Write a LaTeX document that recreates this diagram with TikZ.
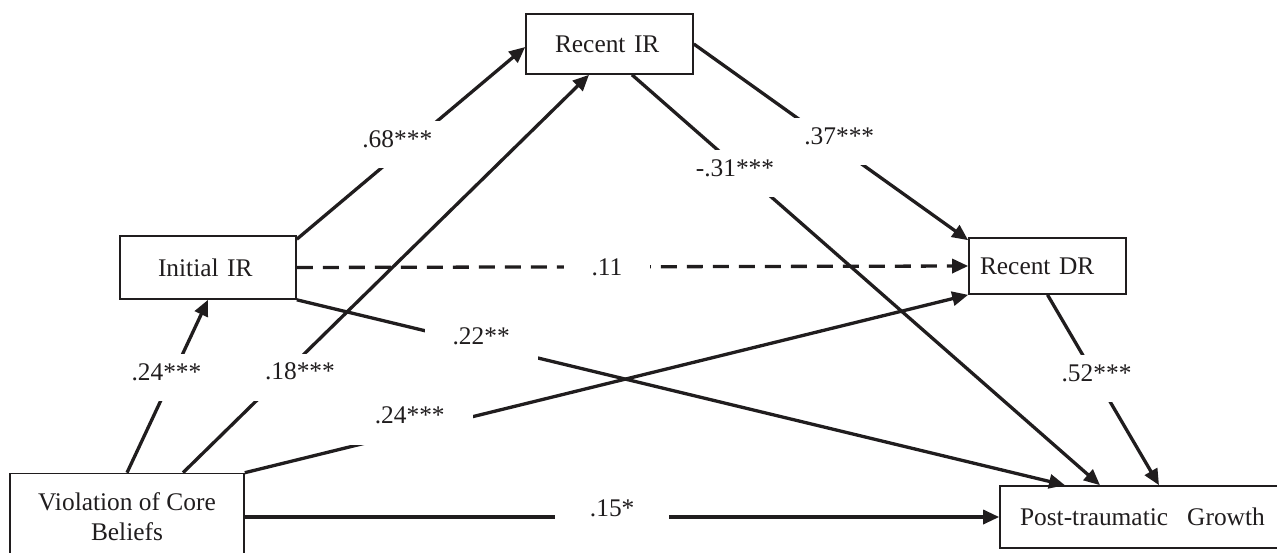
\documentclass[tikz,border=0pt]{standalone}
\usepackage{fontspec}
\setmainfont{Liberation Serif}
\usetikzlibrary{arrows.meta}
\definecolor{ink}{RGB}{32,29,30}

\begin{document}
\begin{tikzpicture}[x=1pt,y=-1pt,
  box/.style={draw=ink, line width=1.6pt, rectangle, inner sep=0pt, text=ink,
    font=\fontsize{25.4}{30}\selectfont, align=center},
  conn/.style={draw=ink, line width=3.3pt, line cap=butt,
    -{Triangle[length=16pt,width=14pt]}},
  dashconn/.style={conn, dash pattern=on 16pt off 10pt},
  lbl/.style={fill=white, text=ink, font=\fontsize{25.4}{30}\selectfont,
    text height=18pt, text depth=13pt, inner xsep=28pt, inner ysep=8pt}
]
\useasboundingbox (0,0) rectangle (1277,552);
\clip (0,0) rectangle (1277,552);

% variables
\node[box, minimum width=234pt, minimum height=87pt] (viol) at (127,517)
  {Violation of Core\\Beliefs};
\node[box, minimum width=300pt, minimum height=62pt, text width=260pt,
  inner xsep=20pt, align=left] (ptg) at (1150,517)
  {Post-traumatic\hspace{0.75em}Growth};
\node[box, minimum width=167pt, minimum height=60pt, text width=109pt,
  inner xsep=29pt, align=left] (rir) at (609.5,44) {Recent IR};
\node[box, minimum width=176pt, minimum height=63pt, text width=100pt,
  inner xsep=38pt, align=left] (iir) at (208,267.5) {Initial IR};
\node[box, minimum width=157pt, minimum height=56pt, text width=135pt,
  inner xsep=11pt, align=left] (rdr) at (1047.5,266) {Recent DR};

% paths with coefficients
\draw[conn] (viol.north) -- node[lbl, pos=0.549, xshift=-5pt] {.24***} (iir.south);
\draw[conn] ([xshift=56pt]viol.north) -- node[lbl, pos=0.24, xshift=19.5pt] {.18***}
  ([xshift=-20.5pt]rir.south);
\draw[conn] (viol.north east) -- node[lbl, pos=0.228, yshift=11pt] {.24***}
  (rdr.south west);
\draw[conn] (viol.east) -- node[lbl, pos=0.487, yshift=3pt, inner xsep=35pt] {.15*}
  (ptg.west);
\draw[conn] ([yshift=-4pt]iir.north east) -- node[lbl, pos=0.44, yshift=10pt] {.68***}
  ([yshift=-3pt]rir.west);
\draw[dashconn] (iir.east) -- node[lbl, pos=0.462, yshift=-6pt] {.11} (rdr.west);
\draw[conn] (iir.south east) -- node[lbl, pos=0.24, yshift=2pt] {.22**}
  ([xshift=-85pt]ptg.north);
\draw[conn] (rir.east) -- node[lbl, pos=0.53, yshift=6pt] {.37***}
  ([yshift=-3pt]rdr.north west);
\draw[conn] ([xshift=22.5pt]rir.south) -- node[lbl, pos=0.22, yshift=-8.5pt] {-.31***}
  ([xshift=-50pt]ptg.north);
\draw[conn] (rdr.south) -- node[lbl, pos=0.44] {.52***} ([xshift=9pt]ptg.north);
\end{tikzpicture}
\end{document}
